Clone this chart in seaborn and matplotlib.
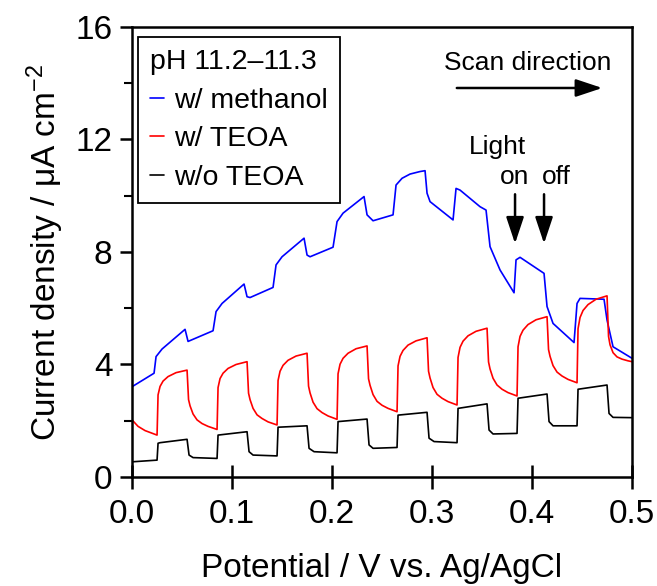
import matplotlib
matplotlib.use("Agg")
import matplotlib.pyplot as plt
import seaborn as sns
import pandas as pd

# Chopped-light scans, vertices (V vs Ag/AgCl, uA cm^-2)
blue_v = [0.000, 0.022, 0.024, 0.030, 0.053, 0.056, 0.081, 0.084, 0.090, 0.112, 0.115, 0.118,
          0.141, 0.144, 0.150, 0.172, 0.175, 0.178, 0.201, 0.205, 0.211, 0.232, 0.235, 0.241,
          0.261, 0.264, 0.270, 0.278, 0.288, 0.293, 0.295, 0.298, 0.321, 0.324, 0.328, 0.348,
          0.354, 0.358, 0.368, 0.382, 0.384, 0.388, 0.412, 0.415, 0.421, 0.442, 0.445, 0.448,
          0.472, 0.475, 0.481, 0.500]
blue_j = [3.21, 3.69, 4.28, 4.55, 5.25, 4.82, 5.20, 5.88, 6.17, 6.86, 6.41, 6.38,
          6.74, 7.54, 7.83, 8.49, 7.89, 7.83, 8.17, 9.08, 9.38, 9.97, 9.32, 9.11,
          9.32, 10.38, 10.62, 10.77, 10.86, 10.89, 10.09, 9.79, 9.14, 10.26, 10.20, 9.61,
          9.49, 8.19, 7.36, 6.55, 7.72, 7.81, 7.24, 6.06, 5.46, 4.78, 6.17, 6.35,
          6.32, 5.58, 4.63, 4.22]

red_v = [0.000, 0.006, 0.013, 0.025,
         0.026, 0.028, 0.031, 0.036, 0.044, 0.055,
         0.0565, 0.058, 0.061, 0.065, 0.070, 0.076, 0.085,
         0.086, 0.088, 0.091, 0.096, 0.104, 0.115,
         0.1165, 0.118, 0.121, 0.125, 0.130, 0.136, 0.145,
         0.146, 0.148, 0.151, 0.156, 0.164, 0.175,
         0.1765, 0.178, 0.181, 0.185, 0.190, 0.196, 0.205,
         0.206, 0.208, 0.211, 0.216, 0.224, 0.235,
         0.2365, 0.238, 0.241, 0.245, 0.250, 0.256, 0.265,
         0.266, 0.268, 0.271, 0.276, 0.284, 0.295,
         0.2965, 0.298, 0.301, 0.305, 0.310, 0.316, 0.325,
         0.326, 0.328, 0.331, 0.336, 0.344, 0.355,
         0.3565, 0.358, 0.361, 0.365, 0.370, 0.376, 0.385,
         0.386, 0.388, 0.391, 0.396, 0.404, 0.415,
         0.4165, 0.418, 0.421, 0.425, 0.430, 0.436, 0.445,
         0.446, 0.448, 0.451, 0.456, 0.464, 0.475,
         0.4765, 0.478, 0.481, 0.485, 0.490, 0.496, 0.500]
red_j = [2.03, 1.80, 1.65, 1.49,
         2.92, 3.22, 3.41, 3.57, 3.71, 3.80,
         2.75, 2.53, 2.24, 2.03, 1.90, 1.80, 1.69,
         3.18, 3.50, 3.69, 3.86, 4.00, 4.10,
         2.98, 2.75, 2.44, 2.21, 2.08, 1.96, 1.85,
         3.43, 3.76, 3.97, 4.15, 4.30, 4.40,
         3.23, 2.99, 2.66, 2.43, 2.29, 2.17, 2.05,
         3.67, 4.01, 4.22, 4.40, 4.56, 4.66,
         3.49, 3.26, 2.93, 2.69, 2.55, 2.44, 2.32,
         3.95, 4.29, 4.50, 4.69, 4.84, 4.95,
         3.76, 3.52, 3.18, 2.94, 2.80, 2.68, 2.56,
         4.25, 4.61, 4.83, 5.02, 5.18, 5.29,
         4.09, 3.84, 3.51, 3.27, 3.12, 3.00, 2.88,
         4.63, 5.00, 5.22, 5.42, 5.59, 5.70,
         4.53, 4.29, 3.96, 3.73, 3.59, 3.47, 3.35,
         5.27, 5.67, 5.92, 6.13, 6.32, 6.44,
         5.00, 4.70, 4.42, 4.27, 4.19, 4.13, 4.10]

black_v = [0.000, 0.025, 0.026, 0.028, 0.055, 0.057, 0.061, 0.085, 0.086, 0.115, 0.117,
           0.121, 0.145, 0.146, 0.175, 0.177, 0.182, 0.205, 0.206, 0.235, 0.237, 0.241,
           0.265, 0.266, 0.295, 0.297, 0.302, 0.325, 0.326, 0.355, 0.357, 0.361, 0.385,
           0.386, 0.415, 0.417, 0.421, 0.445, 0.446, 0.475, 0.477, 0.481, 0.500]
black_j = [0.54, 0.60, 1.20, 1.22, 1.34, 0.78, 0.69, 0.66, 1.49, 1.61, 0.90,
           0.78, 0.75, 1.77, 1.82, 1.02, 0.90, 0.86, 1.97, 2.06, 1.14, 1.02,
           1.05, 2.20, 2.30, 1.38, 1.26, 1.22, 2.44, 2.60, 1.67, 1.53, 1.55,
           2.80, 2.95, 1.97, 1.82, 1.82, 3.12, 3.27, 2.26, 2.12, 2.11]

labels = ["w/ methanol", "w/ TEOA", "w/o TEOA"]
colors = ["#0000ff", "#ff0000", "#000000"]

sns.set_theme(style="ticks")
plt.rcParams["font.family"] = ["Liberation Sans", "DejaVu Sans"]
plt.rcParams["mathtext.fontset"] = "custom"
plt.rcParams["mathtext.rm"] = "Liberation Sans"
plt.rcParams["mathtext.it"] = "Liberation Sans:italic"
for key in ["text.color", "axes.labelcolor", "xtick.color", "ytick.color", "axes.edgecolor"]:
    plt.rcParams[key] = "black"

fig = plt.figure(figsize=(6.57, 5.86), dpi=100)
ax = fig.add_axes([0.201, 0.186, 0.761, 0.768])

for v, j, lab, c in zip([blue_v, red_v, black_v], [blue_j, red_j, black_j], labels, colors):
    df = pd.DataFrame({"V": v, "J": j})
    sns.lineplot(data=df, x="V", y="J", sort=False, estimator=None, color=c,
                 linewidth=1.2, label=lab, ax=ax)

ax.set_xlim(0, 0.5)
ax.set_ylim(0, 16)
ax.set_xticks([0.0, 0.1, 0.2, 0.3, 0.4, 0.5])
ax.set_xticklabels(["0.0", "0.1", "0.2", "0.3", "0.4", "0.5"])
ax.set_yticks([0, 4, 8, 12, 16])
ax.set_yticks([2, 6, 10, 14], minor=True)
ax.tick_params(axis="both", which="major", labelsize=24, width=1.8, color="black",
               labelcolor="black")
ax.tick_params(axis="y", which="major", length=9, pad=5)
ax.tick_params(axis="y", which="minor", width=1.5, length=6, color="black")
ax.tick_params(axis="x", which="major", direction="inout", length=17, pad=7)
for s in ax.spines.values():
    s.set_linewidth(1.8)
    s.set_color("black")

ax.set_xlabel("Potential / V vs. Ag/AgCl", fontsize=24, labelpad=17)
ax.set_ylabel("Current density / μA cm$^{-2}$", fontsize=24, labelpad=7)

leg = ax.legend(title="pH 11.2–11.3", loc="upper left", bbox_to_anchor=(0.012, 0.978),
                fontsize=20.5, title_fontsize=20.5, handlelength=0.5, handletextpad=0.35,
                frameon=True, fancybox=False, edgecolor="black", framealpha=1,
                borderpad=0.42, borderaxespad=0, labelspacing=0.45, alignment="left")
leg.get_frame().set_linewidth(1.3)
leg.get_title().set_color("black")
for t in leg.get_texts():
    t.set_color("black")

ax.text(0.396, 14.72, "Scan direction", fontsize=19, ha="center", va="center")
ax.annotate("", xy=(0.473, 13.83), xytext=(0.322, 13.83),
            arrowprops=dict(arrowstyle="-|>,head_width=0.3,head_length=0.9", color="black",
                            lw=1.8, mutation_scale=18))
ax.text(0.365, 11.73, "Light", fontsize=19, ha="center", va="center")
ax.text(0.383, 10.67, "on", fontsize=19, ha="center", va="center")
ax.text(0.424, 10.67, "off", fontsize=19, ha="center", va="center")
for xa in [0.383, 0.412]:
    ax.annotate("", xy=(xa, 8.2), xytext=(xa, 10.15),
                arrowprops=dict(arrowstyle="-|>,head_width=0.3,head_length=0.9", color="black",
                                lw=1.8, mutation_scale=18))

fig.savefig("out.png", dpi=100)
